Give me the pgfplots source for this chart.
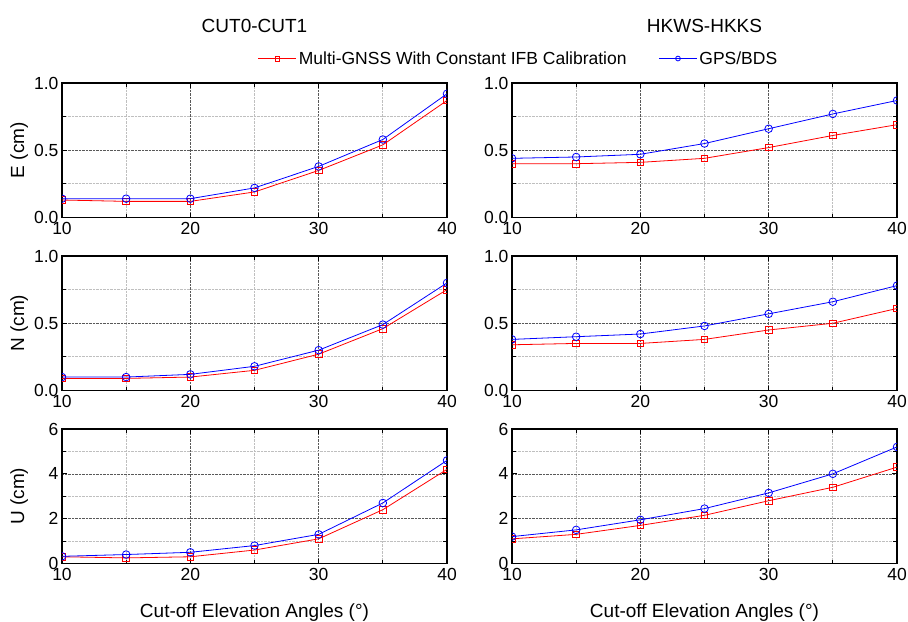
\documentclass[border=0pt]{standalone}
\usepackage{fontspec}
\setmainfont{Liberation Sans}
\usepackage{pgfplots}
\pgfplotsset{compat=1.18}
\usepgfplotslibrary{groupplots}

\begin{document}
\begin{tikzpicture}
\begin{groupplot}[
    group style={group size=2 by 3, horizontal sep=65pt, vertical sep=38.5pt},
    width=385pt, height=134.5pt, scale only axis,
    xmin=10, xmax=40,
    xtick={10,20,30,40},
    minor xtick={15,25,35},
    minor y tick num=1,
    tick align=inside,
    major tick length=5pt, minor tick length=4pt,
    every tick/.style={black, line width=0.8pt},
    axis line style={line width=1.6pt},
    grid=both,
    major grid style={densely dotted, black!65, line width=0.6pt},
    minor grid style={densely dotted, black!25, line width=0.9pt},
    tick label style={font=\fontsize{17.5}{17.5}\selectfont},
    label style={font=\fontsize{19}{19}\selectfont},
    /pgf/number format/assume math mode=true,
    xticklabel style={yshift=-1pt},
    ylabel style={at={(axis description cs:-0.0987,0.5)}, anchor=base},
    xlabel style={at={(axis description cs:0.5,0)}, anchor=base, yshift=-54pt},
    clip marker paths=true,
    every axis plot/.append style={line width=0.8pt},
]
% ---- E, CUT0-CUT1
\nextgroupplot[ymin=0, ymax=1, ytick={0,0.5,1},
    yticklabel style={/pgf/number format/.cd, fixed, fixed zerofill, precision=1},
    ylabel={E (cm)},
    legend style={at={(1.186,1.182)}, anchor=center, draw=none, fill=none,
        legend columns=2, font=\fontsize{17.5}{17.5}\selectfont,
        /tikz/every even column/.append style={column sep=30pt}},
    legend image code/.code={\draw[#1] (0pt,0pt) -- (38pt,0pt); \draw[#1, mark size=2.4pt] plot coordinates {(19pt,0pt)};},
]
\addplot[red, mark=square, mark size=3.3pt] coordinates {
    (10,0.13) (15,0.12) (20,0.12) (25,0.19) (30,0.35) (35,0.54) (40,0.87)};
\addlegendentry{Multi-GNSS With Constant IFB Calibration}
\addplot[blue, mark=o, mark size=3.8pt] coordinates {
    (10,0.14) (15,0.14) (20,0.14) (25,0.22) (30,0.38) (35,0.58) (40,0.92)};
\addlegendentry{GPS/BDS}

% ---- E, HKWS-HKKS
\nextgroupplot[ymin=0, ymax=1, ytick={0,0.5,1},
    yticklabel style={/pgf/number format/.cd, fixed, fixed zerofill, precision=1}]
\addplot[red, mark=square, mark size=3.3pt] coordinates {
    (10,0.40) (15,0.40) (20,0.41) (25,0.44) (30,0.52) (35,0.61) (40,0.69)};
\addplot[blue, mark=o, mark size=3.8pt] coordinates {
    (10,0.44) (15,0.45) (20,0.47) (25,0.55) (30,0.66) (35,0.77) (40,0.87)};

% ---- N, CUT0-CUT1
\nextgroupplot[ymin=0, ymax=1, ytick={0,0.5,1},
    yticklabel style={/pgf/number format/.cd, fixed, fixed zerofill, precision=1},
    ylabel={N (cm)}]
\addplot[red, mark=square, mark size=3.3pt] coordinates {
    (10,0.09) (15,0.09) (20,0.10) (25,0.15) (30,0.27) (35,0.46) (40,0.75)};
\addplot[blue, mark=o, mark size=3.8pt] coordinates {
    (10,0.10) (15,0.10) (20,0.12) (25,0.18) (30,0.30) (35,0.49) (40,0.80)};

% ---- N, HKWS-HKKS
\nextgroupplot[ymin=0, ymax=1, ytick={0,0.5,1},
    yticklabel style={/pgf/number format/.cd, fixed, fixed zerofill, precision=1}]
\addplot[red, mark=square, mark size=3.3pt] coordinates {
    (10,0.34) (15,0.35) (20,0.35) (25,0.38) (30,0.45) (35,0.50) (40,0.61)};
\addplot[blue, mark=o, mark size=3.8pt] coordinates {
    (10,0.38) (15,0.40) (20,0.42) (25,0.48) (30,0.57) (35,0.66) (40,0.78)};

% ---- U, CUT0-CUT1
\nextgroupplot[ymin=0, ymax=6, ytick={0,2,4,6},
    ylabel={U (cm)}, xlabel={Cut-off Elevation Angles (°)}]
\addplot[red, mark=square, mark size=3.3pt] coordinates {
    (10,0.30) (15,0.25) (20,0.30) (25,0.60) (30,1.10) (35,2.40) (40,4.20)};
\addplot[blue, mark=o, mark size=3.8pt] coordinates {
    (10,0.32) (15,0.40) (20,0.50) (25,0.80) (30,1.30) (35,2.70) (40,4.60)};

% ---- U, HKWS-HKKS
\nextgroupplot[ymin=0, ymax=6, ytick={0,2,4,6},
    xlabel={Cut-off Elevation Angles (°)}]
\addplot[red, mark=square, mark size=3.3pt] coordinates {
    (10,1.10) (15,1.30) (20,1.70) (25,2.15) (30,2.80) (35,3.40) (40,4.30)};
\addplot[blue, mark=o, mark size=3.8pt] coordinates {
    (10,1.20) (15,1.50) (20,1.95) (25,2.45) (30,3.15) (35,4.00) (40,5.20)};
\end{groupplot}
\node[font=\fontsize{19}{19}\selectfont, anchor=base] at ([yshift=51pt]group c1r1.north) {CUT0-CUT1};
\node[font=\fontsize{19}{19}\selectfont, anchor=base] at ([yshift=51pt]group c2r1.north) {HKWS-HKKS};
% page size as in the reference
\pgfresetboundingbox
\path[use as bounding box] ([xshift=-62pt, yshift=-58pt]group c1r3.south west)
    rectangle ([xshift=11pt, yshift=83pt]group c2r1.north east);
\end{tikzpicture}
\end{document}
